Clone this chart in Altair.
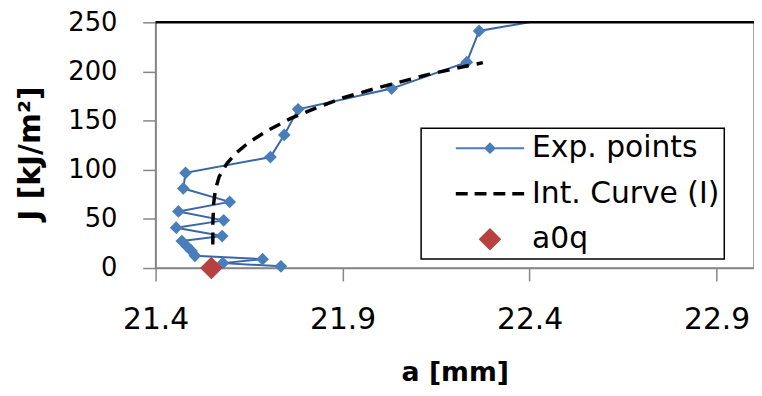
import altair as alt
import pandas as pd

# ---- data ----
series_names = ["Exp. points", "Int. Curve (I)", "a0q"]

exp_a = [21.735, 21.580, 21.686, 21.505, 21.496, 21.483, 21.470, 21.578, 21.455,
         21.582, 21.461, 21.598, 21.474, 21.480, 21.707, 21.744, 21.781, 22.031,
         22.232, 22.265, 22.700]
exp_J = [1.7, 5.0, 9.0, 12.4, 17.4, 22.4, 27.5, 32.5, 41.0,
         48.5, 57.6, 67.3, 81.0, 96.8, 112.9, 135.4, 161.5, 182.6,
         209.4, 241.2, 270.0]

int_a = [21.553, 21.553, 21.555, 21.560, 21.570, 21.590, 21.615, 21.650, 21.700,
         21.760, 21.830, 21.900, 21.990, 22.050, 22.130, 22.200, 22.275]
int_J = [24, 45, 65, 80, 93, 106, 117, 128, 140,
         152, 163, 173, 183, 189, 197, 203, 209]

a0q_a = [21.549]
a0q_J = [0.0]

x_ticks = [21.4, 21.9, 22.4, 22.9]
y_ticks = [0, 50, 100, 150, 200, 250]
x_domain = [21.4, 23.0]
y_domain = [0, 250]

# ---- tables ----
exp_df = pd.DataFrame({"a": exp_a, "J": exp_J, "idx": list(range(len(exp_a))),
                       "series": series_names[0]})
int_df = pd.DataFrame({"a": int_a, "J": int_J, "idx": list(range(len(int_a))),
                       "series": series_names[1]})
a0q_df = pd.DataFrame({"a": a0q_a, "J": a0q_J, "series": series_names[2]})
top_df = pd.DataFrame({"J": [y_domain[1]]})

BLUE_LINE = "#3A67A5"
BLUE_MARK = "#4A7EBB"
RED = "#B7413E"
GRAY = "#868686"
FONT = "DejaVu Sans"

x_enc = alt.X("a:Q",
              scale=alt.Scale(domain=x_domain, nice=False, zero=False),
              axis=alt.Axis(values=x_ticks, format=".1f", title="a [mm]",
                            titleFont=FONT, titleFontSize=27, titleFontWeight="bold",
                            titleColor="black", titleBaseline="alphabetic", titleY=114,
                            labelFont=FONT, labelFontSize=30, labelColor="black",
                            labelPadding=24, labelFlush=False, labelOverlap=False,
                            tickSize=13, tickColor=GRAY, tickWidth=1.5,
                            domainColor=GRAY, domainWidth=1.5, grid=False))
y_enc = alt.Y("J:Q",
              scale=alt.Scale(domain=y_domain, nice=False),
              axis=alt.Axis(values=y_ticks, title="J [kJ/m²]",
                            titleFont=FONT, titleFontSize=30, titleFontWeight="bold",
                            titleColor="black", titleBaseline="middle",
                            titleX=-126, titleY=132,
                            labelFont=FONT, labelFontSize=26, labelColor="black",
                            labelPadding=26, labelFlush=False, labelOverlap=False,
                            tickSize=13, tickColor=GRAY, tickWidth=1.5,
                            domainColor=GRAY, domainWidth=1.5, grid=False))

exp_line = alt.Chart(exp_df).mark_line(color=BLUE_LINE, strokeWidth=2, clip=True).encode(
    x=x_enc, y=y_enc, order="idx:Q")

exp_pts = alt.Chart(exp_df).transform_filter(
    alt.datum.J <= y_domain[1]
).mark_point(shape="diamond", filled=True, size=165, color=BLUE_MARK, opacity=1).encode(
    x="a:Q", y="J:Q")

int_line = alt.Chart(int_df).mark_line(color="black", strokeWidth=3.5, strokeDash=[12, 8],
                                       clip=True).encode(x="a:Q", y="J:Q", order="idx:Q")

# legend symbols as custom paths; symbol size 900 -> 15 px per path unit
p_exp = ("M-2.3,-0.067H2.3V0.067H-2.3Z "
         "M0,-0.4L0.4,0L0,0.4L-0.4,0Z")
p_int = ("M-2.3,-0.117H-1.5V0.117H-2.3Z "
         "M-1.033,-0.117H-0.233V0.117H-1.033Z "
         "M0.233,-0.117H1.033V0.117H0.233Z "
         "M1.5,-0.117H2.3V0.117H1.5Z")
p_a0q = "M0,-0.76L0.76,0L0,0.76L-0.76,0Z"
SYM_SIZE = 900

leg = alt.Legend(title=None, orient="none", legendX=268, legendY=107, padding=5,
                 strokeColor="black", fillColor="white", symbolSize=SYM_SIZE,
                 symbolStrokeWidth=0, symbolOffset=49.5, labelOffset=27.5, rowPadding=16,
                 labelFont=FONT, labelFontSize=30, labelColor="black", labelLimit=500,
                 labelExpr="datum.label + '   '", symbolOpacity=1)

a0q_layer = alt.Chart(a0q_df).mark_point(filled=True, size=SYM_SIZE, opacity=1,
                                         strokeWidth=0).encode(
    x="a:Q", y="J:Q",
    color=alt.Color("series:N",
                    scale=alt.Scale(domain=series_names, range=[BLUE_MARK, "black", RED]),
                    legend=leg),
    shape=alt.Shape("series:N",
                    scale=alt.Scale(domain=series_names, range=[p_exp, p_int, p_a0q]),
                    legend=leg))

top_rule = alt.Chart(top_df).mark_rule(color="black", strokeWidth=2.5).encode(y="J:Q")

chart = alt.layer(exp_line, exp_pts, int_line, a0q_layer, top_rule).properties(
    width=604, height=248,
    autosize=alt.AutoSizeParams(type="none"),
    padding={"left": 149, "top": 12.7, "right": 0, "bottom": 118},
).configure_view(stroke=GRAY, strokeWidth=1.5).configure_legend(strokeWidth=1.5)

chart.save("out.html", embed_options={"renderer": "svg", "actions": False})
